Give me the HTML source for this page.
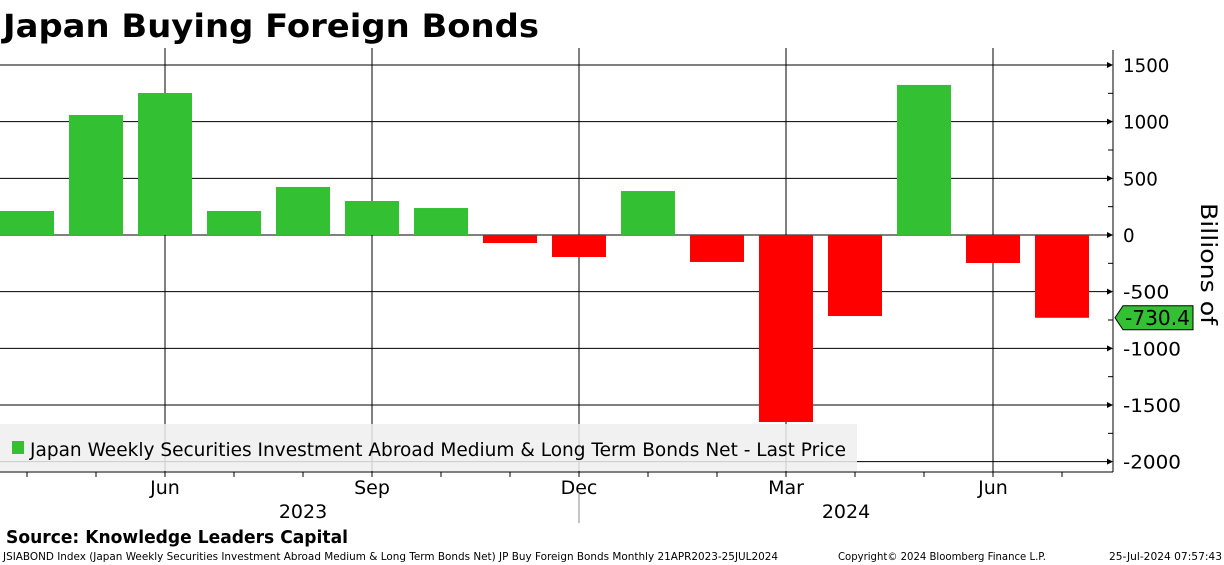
<!DOCTYPE html>
<html><head><meta charset="utf-8"><style>
html,body{margin:0;padding:0;background:#fff;}
svg{display:block;font-family:"DejaVu Sans","Liberation Sans",sans-serif;}
</style></head><body>
<svg id="chart" width="1224" height="565" viewBox="0 0 1224 565">
<text x="3" y="37" font-size="32" font-weight="bold" textLength="536" lengthAdjust="spacingAndGlyphs">Japan Buying Foreign Bonds</text>
<g id="grid"></g>
<g id="bars"></g>
<rect x="0" y="424" width="857" height="47" fill="#eeeeee" opacity="0.85"/>
<g id="axes"></g>
<g>
<rect x="12" y="441" width="12" height="13" fill="#33c033"/>
<text x="30" y="456" font-size="19" textLength="816" lengthAdjust="spacingAndGlyphs">Japan Weekly Securities Investment Abroad Medium &amp; Long Term Bonds Net - Last Price</text>
</g>
<text x="1201" y="264" font-size="22" transform="rotate(90 1201 264)" text-anchor="middle" textLength="122" lengthAdjust="spacingAndGlyphs">Billions of</text>
<text x="6" y="543" font-size="18" font-weight="bold" textLength="342" lengthAdjust="spacingAndGlyphs">Source: Knowledge Leaders Capital</text>
<text x="3" y="560" font-size="10.5" textLength="775" lengthAdjust="spacingAndGlyphs">JSIABOND Index (Japan Weekly Securities Investment Abroad Medium &amp; Long Term Bonds Net) JP Buy Foreign Bonds  Monthly 21APR2023-25JUL2024</text>
<text x="838" y="560" font-size="10.5" textLength="208" lengthAdjust="spacingAndGlyphs">Copyright© 2024 Bloomberg Finance L.P.</text>
<text x="1222" y="560" font-size="10.5" text-anchor="end" textLength="113" lengthAdjust="spacingAndGlyphs">25-Jul-2024 07:57:43</text>
</svg>
<script>
const categories = ["Apr23","May23","Jun23","Jul23","Aug23","Sep23","Oct23","Nov23","Dec23","Jan24","Feb24","Mar24","Apr24","May24","Jun24","Jul24"];
const values = [212, 1059, 1253, 212, 424, 300, 238, -71, -194, 388, -238, -1650, -715, 1324, -247, -730.4];
const yTicks = [1500, 1000, 500, 0, -500, -1000, -1500, -2000];
const monthLabels = [["Jun",2],["Sep",5],["Dec",8],["Mar",11],["Jun",14]];
const yearLabels = [["2023",4.0],["2024",11.87]];
const lastLabel = "-730.4";

const NS="http://www.w3.org/2000/svg";
const y0=235, k=170/1500, axisX=1113, bottom=472;
const yS=v=>y0-v*k;
const xC=i=>27+69*i;
function mk(tag,attrs,parent,text){const e=document.createElementNS(NS,tag);for(const a in attrs)e.setAttribute(a,attrs[a]);if(text!==undefined)e.textContent=text;document.getElementById(parent).appendChild(e);return e;}

yTicks.forEach(t=>{
  const y=yS(t);
  const g=mk('line',{x1:0,x2:axisX-4,y1:y,y2:y,stroke:'#000','stroke-width':1},'grid');
  
  
  mk('path',{d:`M${axisX-6},${y-3}L${axisX},${y}L${axisX-6},${y+3}Z`,fill:'#000'},'axes');
  const s=String(t);
  const l=mk('text',{x:axisX+10,y:y+7,'font-size':19,textLength:(s.length*11.6).toFixed(1),lengthAdjust:'spacingAndGlyphs'},'axes',s);
  
  
});
for(let t=1250;t>-2000;t-=500){mk('line',{x1:axisX-5,x2:axisX,y1:yS(t),y2:yS(t),stroke:'#000'},'axes');}
monthLabels.forEach(m=>{
  const x=xC(m[1]);
  const g=mk('line',{x1:x,x2:x,y1:48,y2:bottom,stroke:'#000','stroke-width':1},'grid');
  
  
  const l=mk('text',{x:x,y:494,'font-size':19,'text-anchor':'middle'},'axes',m[0]);
  
  
});
yearLabels.forEach(yl=>{
  const l=mk('text',{x:xC(yl[1]),y:518,'font-size':19,'text-anchor':'middle'},'axes',yl[0]);
  
  
});
mk('line',{x1:579,x2:579,y1:492,y2:523,stroke:'#888'},'axes');
values.forEach((v,i)=>{
  const top=Math.min(yS(v),y0), h=Math.abs(yS(v)-y0);
  const r=mk('rect',{x:xC(i)-27,y:top,width:54,height:h,fill:v>=0?'#33c033':'#ff0000'},'bars');
  
  
});
mk('line',{x1:axisX,x2:axisX,y1:50,y2:bottom,stroke:'#000'},'axes');
mk('line',{x1:0,x2:axisX,y1:bottom,y2:bottom,stroke:'#000'},'axes');
categories.forEach((c,i)=>{mk('line',{x1:xC(i),x2:xC(i),y1:bottom,y2:bottom+5,stroke:'#000'},'axes');});
const ly=yS(values[values.length-1]);
const tag=mk('path',{d:`M${axisX+2},${ly}L${axisX+10},${ly-12}H${axisX+80}V${ly+12}H${axisX+10}Z`,fill:'#33c033',stroke:'#000','stroke-width':1},'axes');


mk('text',{x:axisX+12,y:ly+7,'font-size':20,textLength:65,lengthAdjust:'spacingAndGlyphs'},'axes',lastLabel);
</script>
</body></html>
